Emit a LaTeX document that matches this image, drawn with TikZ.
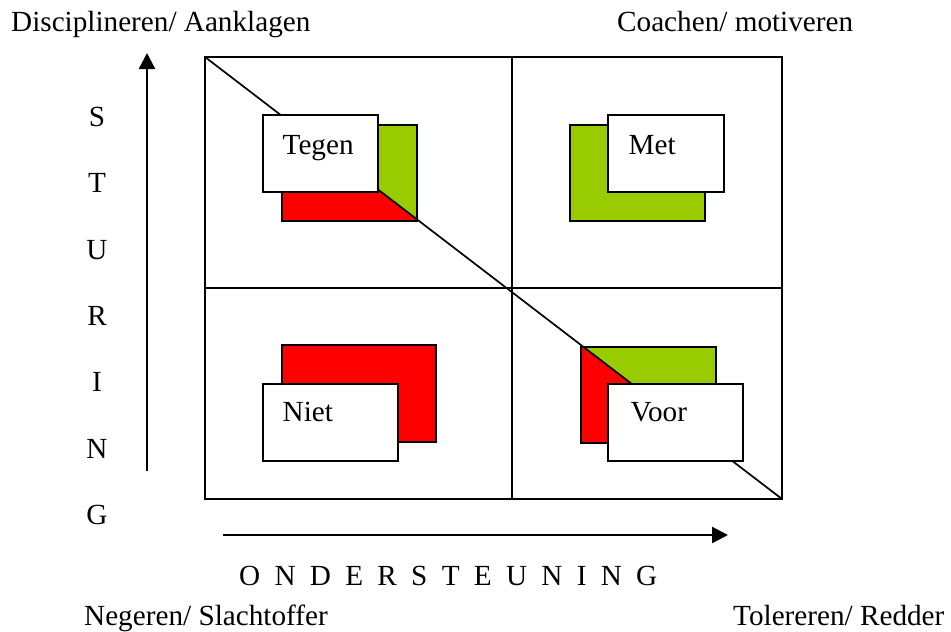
\documentclass[tikz,border=0pt]{standalone}
\usepackage{fontspec}
\setmainfont{Liberation Serif}
\usetikzlibrary{arrows.meta,calc}
\definecolor{shadred}{RGB}{255,0,0}
\definecolor{shadgreen}{RGB}{153,204,0}
\begin{document}
\begin{tikzpicture}[x=1pt,y=-1pt,
  frame/.style={line width=1.7pt},
  wbox/.style={draw, line width=1.8pt, fill=white, anchor=north west, inner sep=0pt, outer sep=0pt},
  lbl/.style={anchor=base west, inner sep=0pt, font=\fontsize{29.2}{34}\selectfont},
  arr/.style={line width=2.4pt, -{Triangle[length=16pt,width=16pt]}},
  shad/.style={line width=1.8pt}]
\useasboundingbox (0,0) rectangle (951,632);
% frame corners
\coordinate (nw) at (205,57);
\coordinate (ne) at (782,57);
\coordinate (sw) at (205,499);
\coordinate (se) at (782,499);
\coordinate (mt) at (512,57);
\coordinate (mb) at (512,499);
\coordinate (ml) at (205,288);
\coordinate (mr) at (782,288);
% shadows, split by the diagonal
\begin{scope}
  \clip (282,125) rectangle (417,221)
        (570,125) rectangle (705,221)
        (282,345) rectangle (436,442)
        (581,347) rectangle (716,443);
  \fill[shadred] (nw) -- (se) -- (sw) -- cycle;
  \fill[shadgreen] (nw) -- (se) -- (ne) -- cycle;
\end{scope}
\draw[shad] (282,125) rectangle (417,221);
\draw[shad] (570,125) rectangle (705,221);
\draw[shad] (282,345) rectangle (436,442);
\draw[shad] (581,347) rectangle (716,443);
% frame and grid
\draw[frame] (nw) rectangle (se);
\draw[frame] (mt) -- (mb);
\draw[frame] (ml) -- (mr);
\draw[frame] (nw) -- (se);
% white boxes
\node[wbox, minimum width=115pt, minimum height=77pt] (tegen) at (263,115) {};
\node[wbox, minimum width=116pt, minimum height=77pt] (met) at (608,115) {};
\node[wbox, minimum width=135pt, minimum height=77pt] (niet) at (263,384) {};
\node[wbox, minimum width=135pt, minimum height=77pt] (voor) at (608,384) {};
\node[lbl] (tegentxt) at ($(tegen.north west)+(19.5,39)$) {Tegen};
\node[lbl] (mettxt) at ($(met.north west)+(20.5,39)$) {Met};
\node[lbl] (niettxt) at ($(niet.north west)+(19.5,37)$) {Niet};
\node[lbl] (voortxt) at ($(voor.north west)+(22.5,37)$) {Voor};
% corner labels
\node[lbl] (tl) at (11,31) {Disciplineren/ Aanklagen};
\node[lbl] (tr) at (617,31) {Coachen/ motiveren};
\node[lbl] (bl) at (84,625) {Negeren/ Slachtoffer};
\node[lbl] (br) at (733,625) {Tolereren/ Redder};
% axis labels
\node[lbl] (ond) at (239,585) {\spaceskip=14.3pt plus 0pt minus 0pt\relax O N D E R S T E U N I N G};
\foreach \l [count=\i] in {S,T,U,R,I,N,G}
  \node[lbl, anchor=base] (st\i) at (97,{126.5+66.3*(\i-1)}) {\l};
% arrows
\coordinate (vs) at (147,471);
\coordinate (ve) at (147,53);
\coordinate (hs) at (223,535);
\coordinate (he) at (728,535);
\draw[arr] (vs) -- (ve);
\draw[arr] (hs) -- (he);
\end{tikzpicture}
\end{document}
